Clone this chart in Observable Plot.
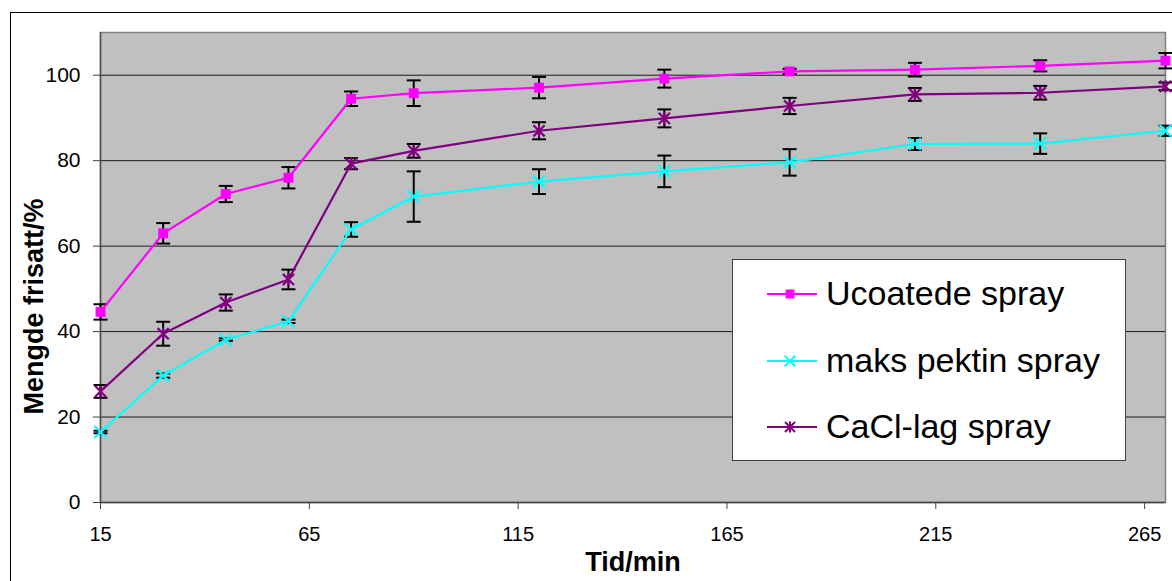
<!DOCTYPE html>
<html>
<head>
<meta charset="utf-8">
<script src="https://cdn.jsdelivr.net/npm/d3@7"></script>
<script src="https://cdn.jsdelivr.net/npm/@observablehq/plot@0.6"></script>
<style>
  html, body { margin: 0; padding: 0; background: #fff; overflow: hidden; }
  #wrap { position: relative; width: 1172px; height: 581px; }
  #outer { position: absolute; left: 10px; top: 12px; width: 1300px; height: 700px; border: 1px solid #000; box-sizing: border-box; }
  #chart { position: absolute; left: 0; top: 0; }
  #legend { position: absolute; left: 0; top: 0; pointer-events: none; }
</style>
</head>
<body>
<div id="wrap"><div id="outer"></div><div id="chart"></div><svg id="legend" width="1172" height="581"></svg></div>
<script>
// ---- data ----
const times = [15, 30, 45, 60, 75, 90, 120, 150, 180, 210, 240, 270];
const seriesNames = ["Ucoatede spray", "maks pektin spray", "CaCl-lag spray"];
const ucoatede    = [44.6, 63.0, 72.2, 76.0, 94.5, 95.8, 97.1, 99.2, 100.9, 101.3, 102.2, 103.4];
const ucoatedeErr = [1.8, 2.4, 1.9, 2.5, 1.7, 3.0, 2.5, 2.1, 0.6, 1.6, 1.3, 1.8];
const maks        = [16.5, 29.7, 38.1, 42.4, 63.9, 71.6, 75.1, 77.5, 79.6, 83.9, 84.0, 87.0];
const maksErr     = [0.3, 0.5, 0.3, 0.4, 1.7, 5.9, 2.9, 3.7, 3.1, 1.4, 2.4, 1.2];
const cacl        = [26.0, 39.5, 46.8, 52.2, 79.3, 82.3, 87.0, 89.9, 92.8, 95.5, 95.9, 97.4];
const caclErr     = [1.5, 2.8, 1.9, 2.3, 1.3, 1.6, 2.0, 2.1, 1.9, 1.5, 1.6, 0.9];
const xTicks = [15, 65, 115, 165, 215, 265];
const yTicks = [0, 20, 40, 60, 80, 100];

// ---- symbols ----
const crossSym = { draw(ctx, size) { const h = Math.sqrt(size / Math.PI);
  ctx.moveTo(-h, -h); ctx.lineTo(h, h); ctx.moveTo(-h, h); ctx.lineTo(h, -h); } };
const starSym = { draw(ctx, size) { const h = Math.sqrt(size / Math.PI);
  ctx.moveTo(-h, -h); ctx.lineTo(h, h); ctx.moveTo(-h, h); ctx.lineTo(h, -h);
  ctx.moveTo(0, -h * 1.1); ctx.lineTo(0, h * 1.1); } };
const capSym = { draw(ctx, size) { const h = Math.sqrt(size / Math.PI);
  ctx.moveTo(-h, 0); ctx.lineTo(h, 0); } };

const series = [
  { name: seriesNames[0], vals: ucoatede, errs: ucoatedeErr, color: "#FF00FF", symbol: "square", r: 5.6, filled: true },
  { name: seriesNames[1], vals: maks, errs: maksErr, color: "#00FFFF", symbol: crossSym, r: 6, filled: false },
  { name: seriesNames[2], vals: cacl, errs: caclErr, color: "#800080", symbol: starSym, r: 5.6, filled: false }
];

const rows = series.flatMap(s => times.map((t, i) => ({ series: s.name, t, v: s.vals[i], e: s.errs[i] })));

const marks = [
  Plot.frame({ fill: "#C0C0C0", stroke: "#808080", strokeWidth: 1.5 }),
  Plot.gridY(yTicks.filter(d => d > 0), { stroke: "#1a1a1a", strokeOpacity: 1, strokeWidth: 1 }),
  Plot.ruleY([0], { stroke: "#404040", strokeWidth: 1.5 }),
  Plot.ruleX([15], { stroke: "#505050", strokeWidth: 1.5 }),
  Plot.axisX(xTicks, { label: null, tickSize: 7, tickPadding: 17, fontSize: 20, stroke: "#404040", fill: "#000" }),
  Plot.axisY(yTicks, { label: null, tickSize: 7, tickPadding: 13, fontSize: 21, stroke: "#404040", fill: "#000" }),
  Plot.text(["Tid/min"], { frameAnchor: "bottom", lineAnchor: "bottom", dy: 68, fontSize: 27, fontWeight: "bold", fill: "#000" }),
  Plot.text(["Mengde frisatt/%"], { frameAnchor: "left", textAnchor: "middle", lineAnchor: "middle", dx: -66, dy: 39, rotate: -90, fontSize: 27, fontWeight: "bold", fill: "#000" }),
  // error bars
  Plot.ruleX(rows, { x: "t", y1: d => d.v - d.e, y2: d => d.v + d.e, stroke: "#000", strokeWidth: 2 }),
  Plot.dot(rows, { x: "t", y: d => d.v + d.e, symbol: capSym, r: 7, stroke: "#000", strokeWidth: 2 }),
  Plot.dot(rows, { x: "t", y: d => d.v - d.e, symbol: capSym, r: 7, stroke: "#000", strokeWidth: 2 })
];
for (const s of series) {
  const data = rows.filter(d => d.series === s.name);
  marks.push(Plot.line(data, { x: "t", y: "v", stroke: s.color, strokeWidth: 2.2 }));
}
for (const s of series) {
  const data = rows.filter(d => d.series === s.name);
  marks.push(s.filled
    ? Plot.dot(data, { x: "t", y: "v", symbol: s.symbol, r: s.r, fill: s.color, stroke: "none" })
    : Plot.dot(data, { x: "t", y: "v", symbol: s.symbol, r: s.r, fill: "none", stroke: s.color, strokeWidth: 2.2 }));
}

const chart = Plot.plot({
  width: 1172, height: 581,
  marginLeft: 100, marginRight: 7, marginTop: 32, marginBottom: 79,
  style: { fontFamily: "'Liberation Sans', Arial, sans-serif", fontSize: "20px", background: "transparent", overflow: "visible", color: "#000" },
  x: { domain: [15, 270] },
  y: { domain: [0, 110] },
  marks
});
document.getElementById("chart").appendChild(chart);

// ---- legend ----
const lg = d3.select("#legend");
lg.append("rect").attr("x", 732.5).attr("y", 259.5).attr("width", 393).attr("height", 201)
  .attr("fill", "#fff").attr("stroke", "#404040").attr("stroke-width", 1);
const rowY = [294, 361, 427];
series.forEach((s, i) => {
  const y = rowY[i];
  lg.append("line").attr("x1", 767).attr("x2", 817).attr("y1", y).attr("y2", y)
    .attr("stroke", s.color).attr("stroke-width", 2);
  const sym = d3.symbol().type(s.symbol === "square" ? d3.symbolSquare : s.symbol).size(Math.PI * s.r * s.r * 0.8);
  lg.append("path").attr("d", sym()).attr("transform", `translate(790,${y})`)
    .attr("fill", s.filled ? s.color : "none").attr("stroke", s.filled ? "none" : s.color).attr("stroke-width", 2);
  lg.append("text").attr("x", 826).attr("y", y + 11).attr("font-size", 34)
    .attr("font-family", "'Liberation Sans', Arial, sans-serif").attr("fill", "#000").text(s.name);
});
</script>
</body>
</html>
